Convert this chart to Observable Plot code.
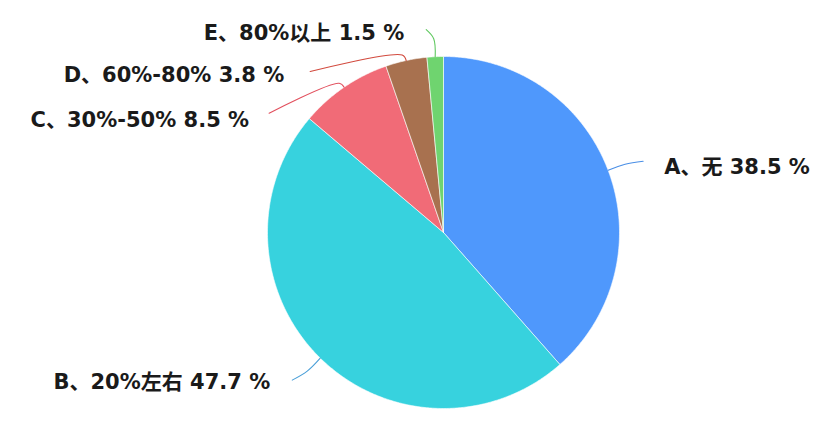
<!DOCTYPE html>
<html>
<head>
<meta charset="utf-8">
<script src="https://cdn.jsdelivr.net/npm/d3@7"></script>
<script src="https://cdn.jsdelivr.net/npm/@observablehq/plot@0.6"></script>
<style>
  html, body { margin: 0; padding: 0; background: #ffffff; }
  #chart { width: 826px; height: 422px; }
</style>
</head>
<body>
<div id="chart"></div>
<script>
// ---- data ----
const categories = ["A、无", "B、20%左右", "C、30%-50%", "D、60%-80%", "E、80%以上"];
const values = [38.5, 47.7, 8.5, 3.8, 1.5];

// ---- styles / layout (not data) ----
const sliceColors = ["#4F98FC", "#37D2DE", "#F16B77", "#A8714F", "#6FD46F"];
const leaderColors = ["#4A8FE6", "#4A9FD8", "#E2505E", "#D24A3E", "#5EC85E"];
const R = 176;
// leader line vertices relative to the slice's mid-edge point, in px (y down)
const leaderOffsets = [
  [[0, 0], [17, -6], [35, -9]],
  [[0, 0], [-13, 13], [-28, 22]],
  [[0, 0], [-5, -4], [-75, 26]],
  [[0, 0], [-4, -5.5], [-96, 11]],
  [[0, 0], [-1.5, -18], [-9, -27]]
];
const labelOffsets = [[56, -3], [-50, 24], [-95, 33], [-122, 15], [-31, -23]];
const labelAnchors = ["start", "end", "end", "end", "end"];

// ---- build geometry from values ----
const total = d3.sum(values);
const pie = [];
let acc = 0;
categories.forEach((c, i) => {
  const a0 = acc / total * 2 * Math.PI;
  acc += values[i];
  const a1 = acc / total * 2 * Math.PI;
  pie.push({key: c, value: values[i], a0, a1, mid: (a0 + a1) / 2, i});
});

const slicePts = [];
for (const s of pie) {
  slicePts.push({key: s.key, x: 0, y: 0});
  const n = Math.max(2, Math.ceil((s.a1 - s.a0) / (Math.PI / 360)));
  for (let k = 0; k <= n; k++) {
    const a = s.a0 + (s.a1 - s.a0) * k / n;
    slicePts.push({key: s.key, x: R * Math.sin(a), y: R * Math.cos(a)});
  }
  slicePts.push({key: s.key, x: 0, y: 0});
}

const leaderPts = [];
const labels = [];
for (const s of pie) {
  const ax = R * Math.sin(s.mid), ay = R * Math.cos(s.mid);
  for (const [dx, dy] of leaderOffsets[s.i]) {
    leaderPts.push({key: s.key, x: ax + dx, y: ay - dy, color: leaderColors[s.i]});
  }
  const [lx, ly] = labelOffsets[s.i];
  labels.push({
    key: s.key,
    x: ax + lx,
    y: ay - ly,
    anchor: labelAnchors[s.i],
    text: `${s.key} ${s.value} %`
  });
}

const font = "'DejaVu Sans', 'Noto Sans CJK SC', sans-serif";

const chart = Plot.plot({
  width: 826,
  height: 422,
  margin: 0,
  style: {background: "#ffffff", overflow: "visible"},
  x: {domain: [-R, R], range: [267, 619], axis: null},
  y: {domain: [-R, R], range: [408, 56], axis: null},
  color: {domain: categories, range: sliceColors},
  marks: [
    Plot.line(slicePts, {x: "x", y: "y", z: "key", fill: "key", stroke: "#ffffff", strokeWidth: 0.6, curve: "linear"}),
    Plot.line(leaderPts, {x: "x", y: "y", z: "key", stroke: "color", strokeWidth: 1.1, curve: "catmull-rom"}),
    Plot.text(labels.filter(d => d.anchor === "start"), {
      x: "x", y: "y", text: "text", textAnchor: "start",
      fontSize: 21, fontWeight: "bold", fill: "#1a1a1a", fontFamily: font
    }),
    Plot.text(labels.filter(d => d.anchor === "end"), {
      x: "x", y: "y", text: "text", textAnchor: "end",
      fontSize: 21, fontWeight: "bold", fill: "#1a1a1a", fontFamily: font
    })
  ]
});
document.getElementById("chart").appendChild(chart);
</script>
</body>
</html>
